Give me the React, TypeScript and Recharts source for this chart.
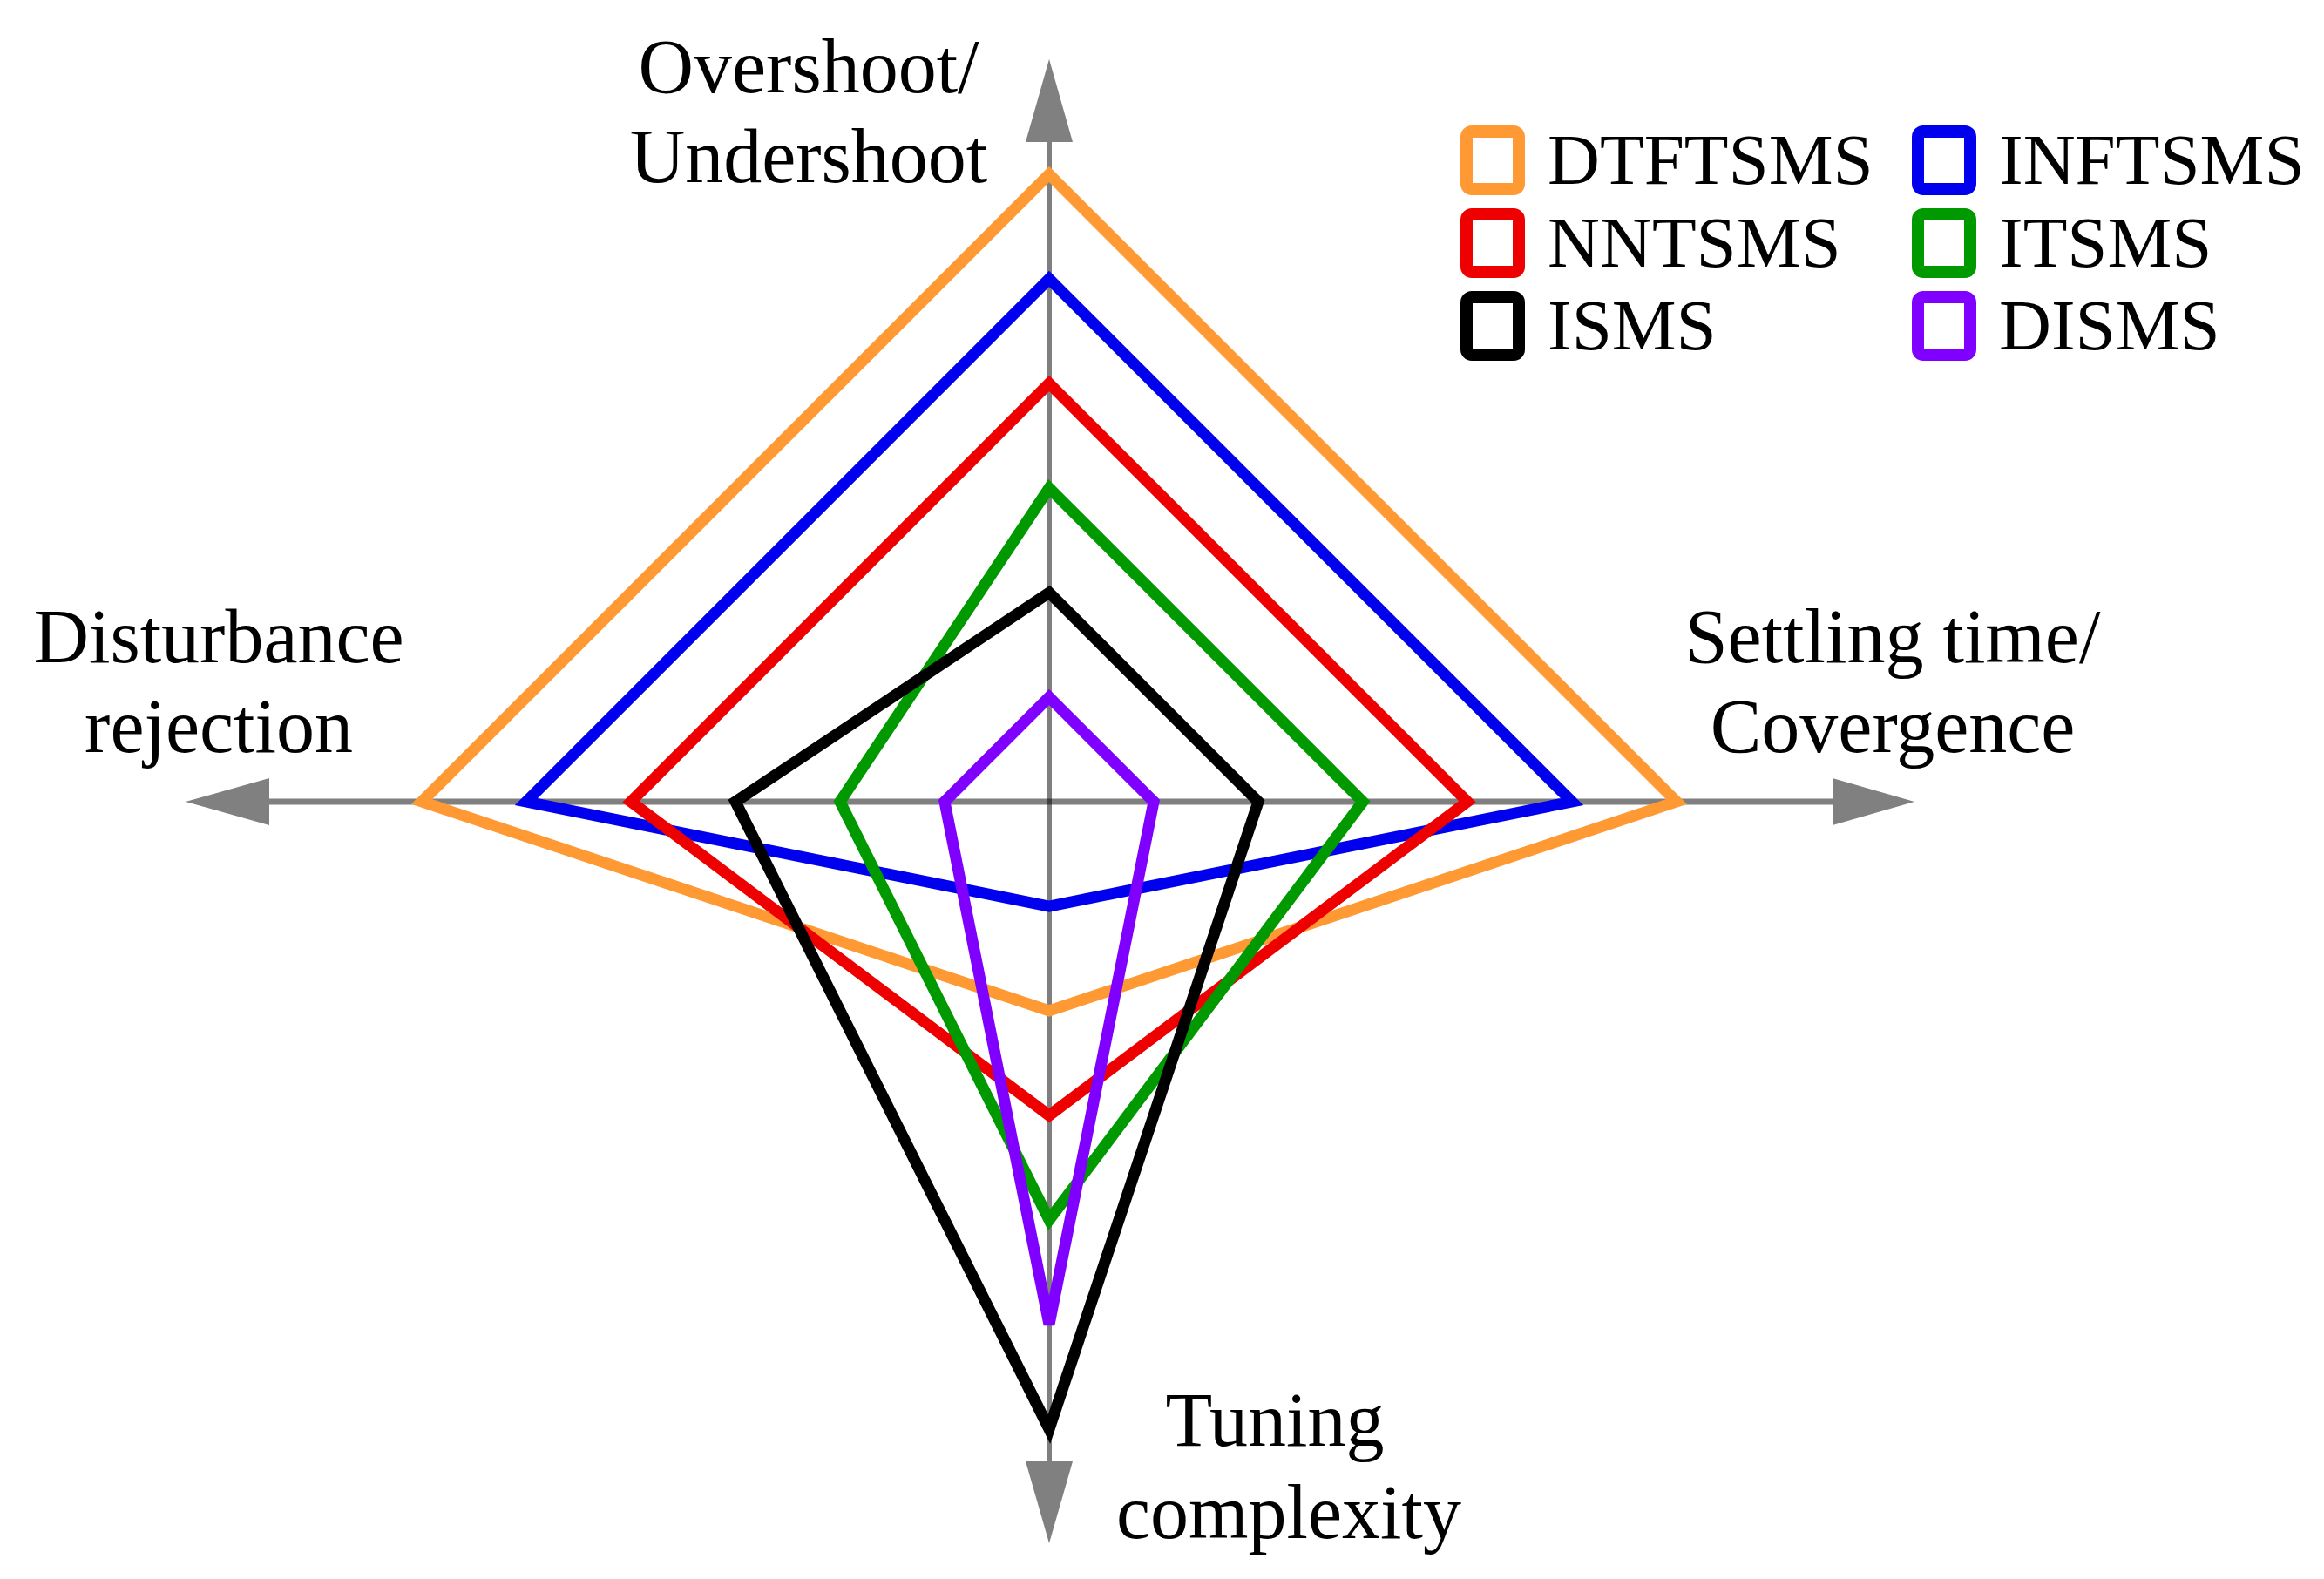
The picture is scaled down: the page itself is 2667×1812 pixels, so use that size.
import {
  RadarChart,
  Radar,
  PolarAngleAxis,
  PolarRadiusAxis,
  Legend,
} from "recharts";

// axes, clockwise from the top
const categories = [
  "Overshoot/Undershoot",
  "Settling time/Covergence",
  "Tuning complexity",
  "Disturbance rejection",
];

const dtftsms = [6, 6, 2, 6];
const inftsms = [5, 5, 1, 5];
const nntsms = [4, 4, 3, 4];
const itsms = [3, 3, 4, 2];
const isms = [2, 2, 6, 3];
const disms = [1, 1, 5, 1];

const series = [
  { name: "DTFTSMS", values: dtftsms, color: "#FF9933" },
  { name: "INFTSMS", values: inftsms, color: "#0000EE" },
  { name: "NNTSMS", values: nntsms, color: "#EE0000" },
  { name: "ITSMS", values: itsms, color: "#009900" },
  { name: "ISMS", values: isms, color: "#000000" },
  { name: "DISMS", values: disms, color: "#8000FF" },
];

const data = categories.map((c, i) => {
  const row: Record<string, string | number> = { axis: c };
  series.forEach((s) => {
    row[s.name] = s.values[i];
  });
  return row;
});

const W = 2651;
const H = 1796;
const CX = 1196;
const CY = 912;
const FONT = '"Liberation Serif", "Times New Roman", serif';

// where each axis title sits, relative to the centre (one x per line)
const labelPos = [
  { dx: [-276, -276], dy: -814, lines: ["Overshoot/", "Undershoot"] },
  { dx: [968, 968], dy: -160, lines: ["Settling time/", "Covergence"] },
  { dx: [259, 275], dy: 739, lines: ["Tuning", "complexity"] },
  { dx: [-953, -953], dy: -160, lines: ["Disturbance", "rejection"] },
];

function renderTick(props: any) {
  const idx = props.index ?? categories.indexOf(props.payload?.value);
  const p = labelPos[idx];
  if (!p) return null;
  const gap = idx === 2 ? 106 : 103;
  return (
    <text
      x={CX + p.dx[0]}
      y={CY + p.dy}
      textAnchor="middle"
      fontFamily={FONT}
      fontSize={88}
      fill="#000"
    >
      {p.lines.map((l, k) => (
        <tspan key={k} x={CX + p.dx[k]} dy={k === 0 ? 0 : gap}>
          {l}
        </tspan>
      ))}
    </text>
  );
}

function AxisCross() {
  const gray = "#808080";
  return (
    <g>
      <line x1={CX - 895} y1={CY} x2={CX + 899} y2={CY} stroke="#000" strokeOpacity={0.5} strokeWidth={7} />
      <line x1={CX} y1={CY - 757} x2={CX} y2={CY + 758} stroke="#000" strokeOpacity={0.5} strokeWidth={6} />
      <polygon points={`${CX},${CY - 852} ${CX - 27},${CY - 757} ${CX + 27},${CY - 757}`} fill={gray} />
      <polygon points={`${CX},${CY + 851} ${CX - 27},${CY + 757} ${CX + 27},${CY + 757}`} fill={gray} />
      <polygon points={`${CX - 991},${CY} ${CX - 895},${CY - 27} ${CX - 895},${CY + 27}`} fill={gray} />
      <polygon points={`${CX + 993},${CY} ${CX + 899},${CY - 27} ${CX + 899},${CY + 27}`} fill={gray} />
    </g>
  );
}

function LegendBox() {
  return (
    <div
      style={{
        display: "grid",
        gridTemplateColumns: "518px 460px",
        gridAutoRows: "95px",
        fontFamily: FONT,
        fontSize: 83,
      }}
    >
      {series.map((s) => (
        <div key={s.name} style={{ display: "flex", alignItems: "center" }}>
          <svg width={74} height={80} style={{ display: "block" }}>
            <rect x={7} y={7} width={60} height={66} rx={6} fill="#fff" stroke={s.color} strokeWidth={14} />
          </svg>
          <span style={{ marginLeft: 26, lineHeight: "95px", whiteSpace: "nowrap" }}>{s.name}</span>
        </div>
      ))}
    </div>
  );
}

export default function App() {
  return (
    <RadarChart
      width={W}
      height={H}
      data={data}
      cx={CX}
      cy={CY}
      outerRadius={720}
      margin={{ top: 0, right: 0, bottom: 0, left: 0 }}
    >
      <PolarAngleAxis
        dataKey="axis"
        tick={renderTick}
        tickLine={false}
        axisLine={false}
      />
      <PolarRadiusAxis domain={[0, 6]} tick={false} axisLine={false} tickCount={7} />
      {series.map((s) => (
        <Radar
          key={s.name}
          name={s.name}
          dataKey={s.name}
          stroke={s.color}
          strokeWidth={13}
          fill="none"
          fillOpacity={0}
          dot={false}
          isAnimationActive={false}
        />
      ))}
      <AxisCross />
      <Legend
        content={<LegendBox />}
        wrapperStyle={{ position: "absolute", left: 1668, top: 128, width: 1000 }}
      />
    </RadarChart>
  );
}
